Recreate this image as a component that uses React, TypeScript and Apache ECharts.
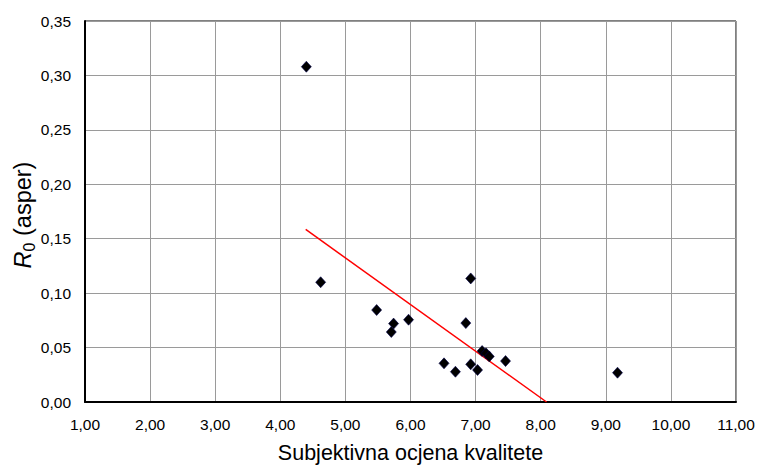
import React, { useEffect, useRef } from "react";
import * as echarts from "echarts";

const xValues = [4.4, 4.62, 5.48, 5.74, 5.705, 5.97, 6.925, 6.85, 6.515, 6.69, 6.925, 7.03, 7.1, 7.16, 7.21, 7.46, 9.18];
const yValues = [0.308, 0.110, 0.0845, 0.072, 0.0643, 0.0756, 0.1135, 0.0725, 0.0355, 0.0278, 0.0346, 0.0294, 0.0468, 0.0447, 0.0419, 0.0376, 0.0269];
const trendX = [4.39, 8.09];
const trendY = [0.1585, 0];
const xTitle = "Subjektivna ocjena kvalitete";
const yTitle = "{r|R}{s|0}{n| (asper)}";

const fmt = (v: number) => v.toFixed(2).replace(".", ",");

export default function App() {
  const ref = useRef<HTMLDivElement>(null);
  useEffect(() => {
    const chart = echarts.init(ref.current!, null, { renderer: "svg" });
    const font = "'Liberation Sans', Arial, sans-serif";
    chart.setOption({
      animation: false,
      textStyle: { fontFamily: font },
      grid: {
        left: 85, right: 22, top: 21, bottom: 63,
        show: true, borderColor: "#000", borderWidth: 1,
        outerBoundsMode: "none", containLabel: false,
      },
      graphic: [
        {
          type: "text",
          x: 23,
          y: 215,
          rotation: Math.PI / 2,
          style: {
            text: yTitle,
            align: "center",
            verticalAlign: "middle",
            fill: "#000",
            rich: {
              r: { fontSize: 23.5, fontStyle: "italic", fill: "#000", fontFamily: font, verticalAlign: "middle", lineHeight: 28 },
              s: { fontSize: 16, fill: "#000", fontFamily: font, verticalAlign: "bottom", lineHeight: 11 },
              n: { fontSize: 23.5, fill: "#000", fontFamily: font, verticalAlign: "middle", lineHeight: 28 },
            },
          },
        },
      ],
      xAxis: {
        type: "value",
        min: 1,
        max: 11,
        interval: 1,
        name: xTitle,
        nameLocation: "middle",
        nameGap: 40,
        nameTextStyle: { fontSize: 21.5, color: "#000", fontFamily: font },
        axisLine: { show: true, lineStyle: { color: "#000", width: 2 } },
        axisTick: { show: false },
        axisLabel: { formatter: fmt, fontSize: 15.5, color: "#000", margin: 14.5, fontFamily: font },
        splitLine: { show: true, lineStyle: { color: "#9a9a9a", width: 1 } },
      },
      yAxis: {
        type: "value",
        min: 0,
        max: 0.35,
        interval: 0.05,
        axisLine: { show: true, lineStyle: { color: "#000", width: 2 } },
        axisTick: { show: false },
        axisLabel: { formatter: fmt, fontSize: 15.5, color: "#000", margin: 14, fontFamily: font },
        splitLine: { show: true, lineStyle: { color: "#9a9a9a", width: 1 } },
      },
      series: [
        {
          type: "line",
          data: trendX.map((x, i) => [x, trendY[i]]),
          symbol: "none",
          lineStyle: { color: "#ff0000", width: 1.5 },
          z: 2,
        },
        {
          type: "scatter",
          data: xValues.map((x, i) => [x, yValues[i]]),
          symbol: "diamond",
          symbolSize: [10, 11],
          itemStyle: { color: "#000000", borderColor: "#00004d", borderWidth: 0.6, opacity: 1 },
          z: 3,
        },
      ],
    });
    return () => chart.dispose();
  }, []);
  return <div ref={ref} style={{ width: 758, height: 465, position: "absolute", left: 0, top: 0 }} />;
}
